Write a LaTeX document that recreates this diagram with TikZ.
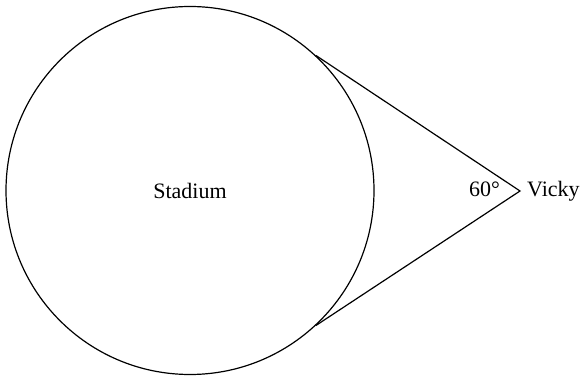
\documentclass[tikz,border=0pt]{standalone}
\usepackage{fontspec}
\setmainfont{Liberation Serif}
\usetikzlibrary{calc}
\begin{document}
\begin{tikzpicture}[x=1pt,y=1pt,
  outline/.style={draw=black,line width=1.2pt},
  lbl/.style={font=\fontsize{22}{26}\selectfont,inner sep=0pt}]
\useasboundingbox (0,0) rectangle (585,377);
\node[outline,circle,minimum size=368pt,inner sep=0pt,lbl,line width=1.2pt] (stadium) at (190,186.5) {Stadium};
\coordinate (vicky) at (520,186);
\draw[outline,line join=miter] (stadium.47.3) -- (vicky) -- (stadium.-47.3);
\node[lbl,anchor=base west] (vname) at (527,180) {Vicky};
\node[lbl,anchor=base east] (angle) at (500,180) {60°};
\end{tikzpicture}
\end{document}
